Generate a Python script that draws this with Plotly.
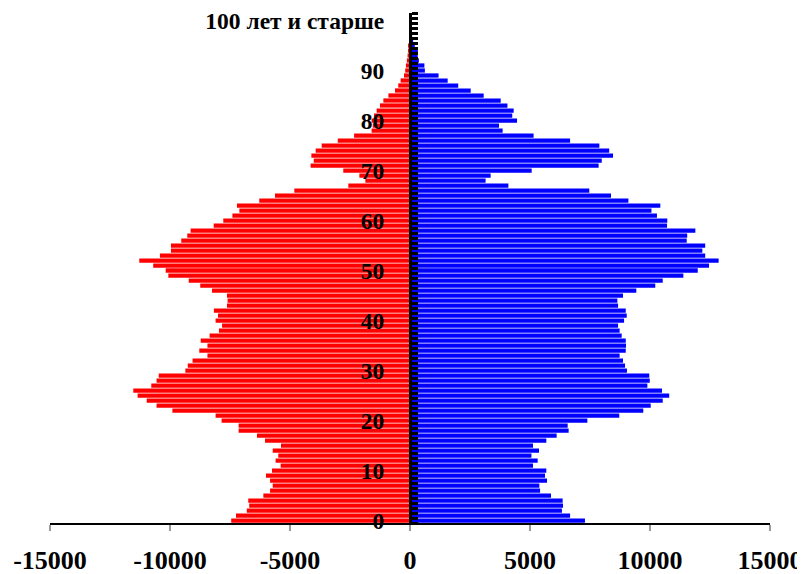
import plotly.graph_objects as go

ages = list(range(101))

left_values = [
    -7450, -7250, -6800, -6700, -6740, -6110, -5830, -5720, -5830, -6000,
    -5750, -5390, -5600, -5490, -5720, -5375, -6040, -6375, -7140, -7140,
    -7850, -8100, -9900, -10560, -10970, -11350, -11530, -10780, -10560, -10470,
    -9360, -9260, -9060, -8440, -8780, -8440, -8720, -8350, -7960, -7830,
    -8100, -8000, -8170, -7625, -7600, -7625, -8250, -8740, -9220, -10070,
    -10180, -10700, -11280, -10420, -9960, -9960, -9530, -9280, -9140, -8180,
    -7780, -7400, -7110, -7210, -6280, -5625, -4820, -2570, -1860, -2110,
    -2780, -4140, -4010, -4110, -3930, -3680, -3010, -2330, -1600, -1550,
    -1600, -1500, -1390, -1250, -1110, -900, -625, -490, -390, -250,
    -200, -170, -130, -100, -80, -60, -40, -30, -20, -10,
    -15,
]

right_values = [
    7290, 6670, 6330, 6375, 6360, 5875, 5420, 5390, 5710, 5625,
    5680, 5125, 5320, 5060, 5375, 5125, 5680, 6110, 6610, 6570,
    7390, 8720, 9720, 10030, 10530, 10800, 10500, 9890, 9990, 9970,
    9040, 8960, 8875, 8735, 8990, 9000, 8990, 8820, 8735, 8670,
    8920, 9030, 8990, 8670, 8640, 8875, 9430, 10220, 10530, 11390,
    11990, 12460, 12860, 12300, 12180, 12300, 11530, 11550, 11890, 10710,
    10720, 10290, 10060, 10430, 9100, 8375, 7470, 4100, 3150, 3360,
    5070, 7860, 7990, 8460, 8300, 7890, 6670, 5150, 3860, 3710,
    4460, 4260, 4320, 4060, 3780, 3070, 2530, 2010, 1570, 1190,
    620, 600, 370, 320, 330, 200, 130, 90, 60, 40,
    60,
]

y_tickvals = [0, 10, 20, 30, 40, 50, 60, 70, 80, 90, 100]
y_ticktext = ["0", "10", "20", "30", "40", "50", "60", "70", "80", "90", "100 лет и старше"]

x_tickvals = [-15000, -10000, -5000, 0, 5000, 10000, 15000]
x_ticktext = ["-15000", "-10000", "-5000", "0", "5000", "10000", "15000"]

serif = "Liberation Serif, Times New Roman, serif"

fig = go.Figure()
fig.add_trace(go.Bar(y=ages, x=left_values, orientation="h",
                     marker=dict(color="#FF0000", line=dict(width=0)),
                     showlegend=False))
fig.add_trace(go.Bar(y=ages, x=right_values, orientation="h",
                     marker=dict(color="#0000FF", line=dict(width=0)),
                     showlegend=False))

# the page body has an 8px margin, so the figure is sized to end at the window edge
fig.update_layout(
    width=797, height=566,
    margin=dict(l=42, r=35, t=5, b=51, autoexpand=False),
    paper_bgcolor="white", plot_bgcolor="white",
    barmode="overlay", bargap=0.15,
    showlegend=False,
    xaxis=dict(
        range=[-15000, 15000], automargin=False,
        tickmode="array", tickvals=x_tickvals, ticktext=x_ticktext,
        showgrid=False, zeroline=False,
        showline=True, linecolor="black", linewidth=1.5,
        ticks="outside", ticklen=6, tickwidth=1.5, tickcolor="#999999",
        tickfont=dict(family=serif, size=26, color="black", weight="bold"),
        ticklabelstandoff=7, ticklabeloverflow="allow",
    ),
    yaxis=dict(
        range=[-0.5, 101.5], automargin=False,
        anchor="free", position=0.5, side="left",
        tickmode="array", tickvals=y_tickvals, ticktext=y_ticktext,
        ticks="",
        minor=dict(ticks="inside", tick0=0.5, dtick=1, ticklen=6,
                   tickwidth=2.5, tickcolor="black", showgrid=False),
        showgrid=False, zeroline=False,
        showline=True, linecolor="black", linewidth=3,
        tickfont=dict(family=serif, size=23.5, color="black", weight="bold"),
        ticklabelstandoff=20, ticklabeloverflow="allow",
    ),
)

fig.write_html("out.html")
